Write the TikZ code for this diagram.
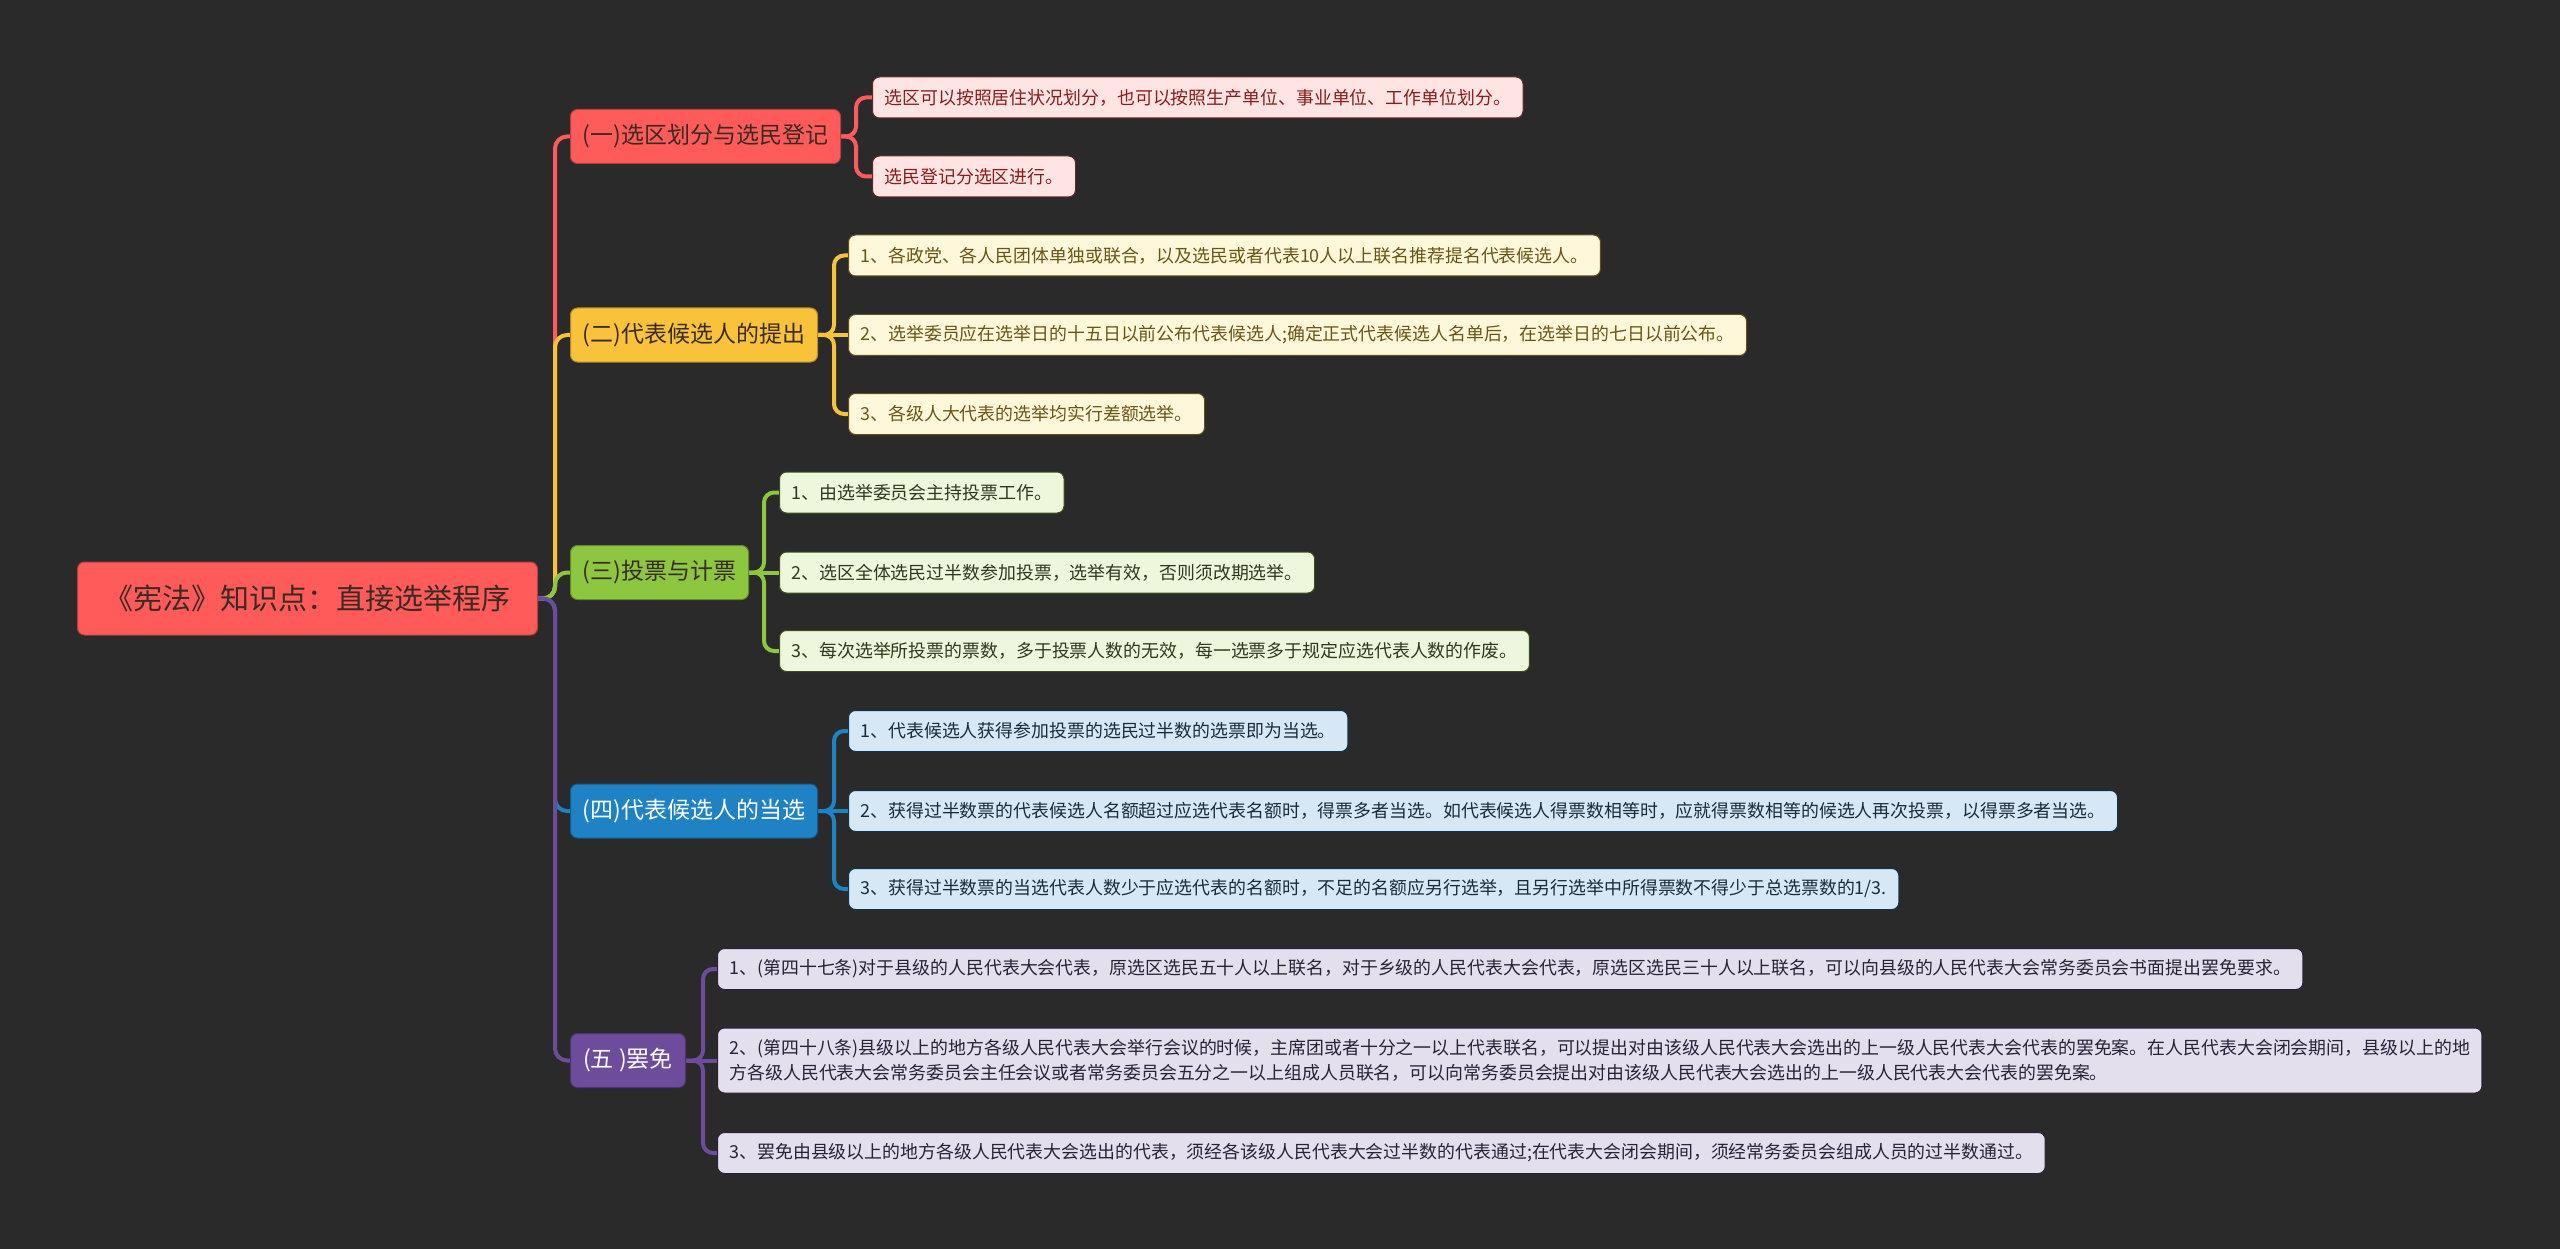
\documentclass[tikz,border=0pt]{standalone}
\usepackage{fontspec}
\setmainfont{Noto Sans CJK SC}
\usetikzlibrary{calc}
\pgfdeclarelayer{bglayer}
\pgfdeclarelayer{lines}
\pgfsetlayers{bglayer,lines,main}
\definecolor{bg}{HTML}{2A2A2A}
\definecolor{cred}{HTML}{FF5B5B}
\definecolor{cyel}{HTML}{F8C33A}
\definecolor{cgrn}{HTML}{8DC63F}
\definecolor{cblu}{HTML}{1E82C4}
\definecolor{cpur}{HTML}{6E4C9C}
\definecolor{lred}{HTML}{FFE4E4}
\definecolor{lyel}{HTML}{FFF7DA}
\definecolor{lgrn}{HTML}{EEF6DC}
\definecolor{lblu}{HTML}{D6E8F5}
\definecolor{lpur}{HTML}{E3DFEC}
\definecolor{tred}{HTML}{8A1C1C}
\definecolor{tyel}{HTML}{6B5516}
\definecolor{tgrn}{HTML}{2F3A1A}
\definecolor{tblu}{HTML}{1B2B3A}
\definecolor{tpur}{HTML}{2A2238}
\definecolor{tdark}{HTML}{3A2A22}
\tikzset{
  rootbox/.style={fill=cred, draw=cred!70!black, line width=1pt, rounded corners=7pt,
    minimum width=460pt, minimum height=73pt, inner sep=0pt, text=tdark,
    font=\fontsize{29}{34}\selectfont, anchor=west},
  lone/.style={rounded corners=7pt, minimum height=54pt, inner sep=0pt,
    font=\fontsize{23}{28}\selectfont, anchor=west, line width=1pt},
  ltwo/.style={rounded corners=7pt, minimum height=41pt, inner xsep=12pt, inner ysep=0pt,
    font=\fontsize{17.9}{24.5}\selectfont, anchor=west, align=left, line width=1pt},
  gred/.style={ltwo, fill=lred, draw=cred!40!black, text=tred},
  gyel/.style={ltwo, fill=lyel, draw=cyel!40!black, text=tyel},
  ggrn/.style={ltwo, fill=lgrn, draw=cgrn!40!black, text=tgrn},
  gblu/.style={ltwo, fill=lblu, draw=cblu!40!black, text=tblu},
  gpur/.style={ltwo, fill=lpur, draw=cpur!40!black, text=tpur},
  conn/.style={line width=4pt, rounded corners=12pt},
  subconn/.style={line width=4pt, rounded corners=10pt},
}
\begin{document}
\begin{tikzpicture}[x=1pt,y=-1pt]
\begin{pgfonlayer}{bglayer}
\fill[bg] (0,0) rectangle (2560,1249);
\end{pgfonlayer}
\useasboundingbox (0,0) rectangle (2560,1249);

\node[rootbox] (root) at (77,598.5) {《宪法》知识点：直接选举程序};

\node[lone, fill=cred, draw=cred!70!black, text=tdark, minimum width=270pt] (a) at (570,136.5) {(一)选区划分与选民登记};
\node[lone, fill=cyel, draw=cyel!70!black, text=tdark, minimum width=247pt] (b) at (570,335) {(二)代表候选人的提出};
\node[lone, fill=cgrn, draw=cgrn!70!black, text=tdark, minimum width=178pt] (c) at (570,572.5) {(三)投票与计票};
\node[lone, fill=cblu, draw=cblu!70!black, text=white, minimum width=247pt] (d) at (570,811) {(四)代表候选人的当选};
\node[lone, fill=cpur, draw=cpur!70!black, text=white, minimum width=115pt] (e) at (570,1060.5) {(五 )罢免};

\node[gred] (a1) at (872,97.5) {选区可以按照居住状况划分，也可以按照生产单位、事业单位、工作单位划分。};
\node[gred] (a2) at (872,176.5) {选民登记分选区进行。};

\node[gyel] (b1) at (848,255.5) {1、各政党、各人民团体单独或联合，以及选民或者代表10人以上联名推荐提名代表候选人。};
\node[gyel] (b2) at (848,335) {2、选举委员应在选举日的十五日以前公布代表候选人;确定正式代表候选人名单后，在选举日的七日以前公布。};
\node[gyel] (b3) at (848,414) {3、各级人大代表的选举均实行差额选举。};

\node[ggrn] (c1) at (779,492.5) {1、由选举委员会主持投票工作。};
\node[ggrn] (c2) at (779,572.5) {2、选区全体选民过半数参加投票，选举有效，否则须改期选举。};
\node[ggrn] (c3) at (779,651) {3、每次选举所投票的票数，多于投票人数的无效，每一选票多于规定应选代表人数的作废。};

\node[gblu] (d1) at (848,731) {1、代表候选人获得参加投票的选民过半数的选票即为当选。};
\node[gblu] (d2) at (848,811) {2、获得过半数票的代表候选人名额超过应选代表名额时，得票多者当选。如代表候选人得票数相等时，应就得票数相等的候选人再次投票，以得票多者当选。};
\node[gblu] (d3) at (848,889) {3、获得过半数票的当选代表人数少于应选代表的名额时，不足的名额应另行选举，且另行选举中所得票数不得少于总选票数的1/3.};

\node[gpur] (e1) at (717,969) {1、(第四十七条)对于县级的人民代表大会代表，原选区选民五十人以上联名，对于乡级的人民代表大会代表，原选区选民三十人以上联名，可以向县级的人民代表大会常务委员会书面提出罢免要求。};
\node[gpur, minimum height=65pt] (e2) at (717,1060.5) {2、(第四十八条)县级以上的地方各级人民代表大会举行会议的时候，主席团或者十分之一以上代表联名，可以提出对由该级人民代表大会选出的上一级人民代表大会代表的罢免案。在人民代表大会闭会期间，县级以上的地\\方各级人民代表大会常务委员会主任会议或者常务委员会五分之一以上组成人员联名，可以向常务委员会提出对由该级人民代表大会选出的上一级人民代表大会代表的罢免案。};
\node[gpur] (e3) at (717,1153) {3、罢免由县级以上的地方各级人民代表大会选出的代表，须经各该级人民代表大会过半数的代表通过;在代表大会闭会期间，须经常务委员会组成人员的过半数通过。};

\begin{pgfonlayer}{lines}
\draw[conn, cred] (root.east) -- ++(17,0) |- (a.west);
\draw[conn, cyel] (root.east) -- ++(17,0) |- (b.west);
\draw[conn, cgrn] (root.east) -- ++(17,0) |- (c.west);
\draw[conn, cblu] (root.east) -- ++(17,0) |- (d.west);
\draw[conn, cpur] (root.east) -- ++(17,0) |- (e.west);

\draw[subconn, cred] (a.east) -- ++(15,0) |- (a1.west);
\draw[subconn, cred] (a.east) -- ++(15,0) |- (a2.west);

\draw[subconn, cyel] (b.east) -- ++(16,0) |- (b1.west);
\draw[subconn, cyel] (b.east) -- (b2.west);
\draw[subconn, cyel] (b.east) -- ++(16,0) |- (b3.west);

\draw[subconn, cgrn] (c.east) -- ++(15,0) |- (c1.west);
\draw[subconn, cgrn] (c.east) -- (c2.west);
\draw[subconn, cgrn] (c.east) -- ++(15,0) |- (c3.west);

\draw[subconn, cblu] (d.east) -- ++(16,0) |- (d1.west);
\draw[subconn, cblu] (d.east) -- (d2.west);
\draw[subconn, cblu] (d.east) -- ++(16,0) |- (d3.west);

\draw[subconn, cpur] (e.east) -- ++(17,0) |- (e1.west);
\draw[subconn, cpur] (e.east) -- (e2.west);
\draw[subconn, cpur] (e.east) -- ++(17,0) |- (e3.west);
\end{pgfonlayer}
\end{tikzpicture}
\end{document}
